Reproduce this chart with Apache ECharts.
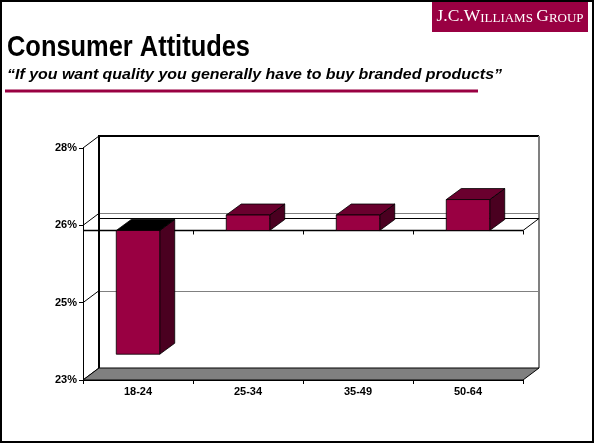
<!DOCTYPE html>
<html>
<head>
<meta charset="utf-8">
<script src="https://cdn.jsdelivr.net/npm/echarts@6/dist/echarts.min.js"></script>
<style>
html,body{margin:0;padding:0;background:#fff;}
#main{width:595px;height:444px;}
</style>
</head>
<body>
<div id="main"></div>
<script>
// ---- data ----
var categories = ['18-24', '25-34', '35-49', '50-64'];
var values = [23.5, 26.2, 26.2, 26.5];
var tickValues = [23, 24.5, 26, 27.5];
var tickLabels = ['23%', '25%', '26%', '28%'];
var axisCross = 25.9;
var titleText = 'Consumer Attitudes';
var subtitleText = '\u201CIf you want quality you generally have to buy branded products\u201D';

// ---- style ----
var MAROON = '#990042';
var TOP = '#6a002e';
var SIDE = '#4a0020';
var WALL_DX = 16, WALL_DY = 12;
var BAR_DX = 15, BAR_DY = 11;
var SANS = "'Liberation Sans', Arial, sans-serif";

function textWidth(txt, font) {
  var c = document.createElement('canvas').getContext('2d');
  c.font = font;
  return c.measureText(txt).width;
}
var titleFont = 'bold 30px ' + SANS;
var subFont = 'italic bold 15.5px ' + SANS;
var titleScale = 243 / textWidth(titleText, titleFont);
var subScale = 495 / textWidth(subtitleText, subFont);

var chart = echarts.init(document.getElementById('main'), null, {renderer: 'canvas'});

function decorRender(params, api) {
  var cs = params.coordSys;
  var x0 = cs.x, x1 = cs.x + cs.width;
  var yOf = function (v) { return api.coord([0, v])[1]; };
  var yMin = yOf(tickValues[0]);
  var yMax = yOf(tickValues[tickValues.length - 1]);
  var ch = [];
  ch.push({type: 'rect', shape: {x: x0 + WALL_DX, y: yMax - WALL_DY, width: x1 - x0, height: yMin - yMax},
    style: {fill: '#fff', stroke: null}});
  for (var k = 1; k < tickValues.length - 1; k++) {
    var yy = Math.round(yOf(tickValues[k]) - WALL_DY) + 0.5;
    ch.push({type: 'line', shape: {x1: x0 + WALL_DX, y1: yy, x2: x1 + WALL_DX, y2: yy},
      style: {stroke: '#808080', lineWidth: 1}});
  }
  for (var k2 = 0; k2 < tickValues.length; k2++) {
    var yt = yOf(tickValues[k2]);
    ch.push({type: 'line', shape: {x1: x0, y1: yt, x2: x0 + WALL_DX, y2: yt - WALL_DY},
      style: {stroke: '#000', lineWidth: 1}});
  }
  ch.push({type: 'polyline', shape: {points: [[x0 + WALL_DX, yMin - WALL_DY], [x0 + WALL_DX, yMax - WALL_DY], [x1 + WALL_DX, yMax - WALL_DY]]},
    style: {stroke: '#000', lineWidth: 2, fill: null}});
  ch.push({type: 'line', shape: {x1: x1 + WALL_DX, y1: yMax - WALL_DY, x2: x1 + WALL_DX, y2: yMin - WALL_DY},
    style: {stroke: '#808080', lineWidth: 2}});
  ch.push({type: 'polygon', shape: {points: [[x0, yMin], [x1, yMin], [x1 + WALL_DX, yMin - WALL_DY], [x0 + WALL_DX, yMin - WALL_DY]]},
    style: {fill: '#808080', stroke: '#000', lineWidth: 1}});
  var yc = yOf(axisCross);
  ch.push({type: 'line', shape: {x1: x0 + WALL_DX, y1: Math.round(yc - WALL_DY) + 0.5, x2: x1 + WALL_DX, y2: Math.round(yc - WALL_DY) + 0.5},
    style: {stroke: '#000', lineWidth: 1}});
  ch.push({type: 'line', shape: {x1: x1, y1: yc, x2: x1 + WALL_DX, y2: yc - WALL_DY},
    style: {stroke: '#000', lineWidth: 1}});
  ch.push({type: 'line', shape: {x1: x0, y1: Math.round(yc) + 0.5, x2: x1, y2: Math.round(yc) + 0.5},
    style: {stroke: '#000', lineWidth: 1.5}});
  var bw = api.size([1, 0])[0];
  for (var t = 1; t <= categories.length; t++) {
    var xt = Math.round(x0 + bw * t) + 0.5;
    ch.push({type: 'line', shape: {x1: xt, y1: yc, x2: xt, y2: yc + 4},
      style: {stroke: '#000', lineWidth: 1}});
  }
  return {type: 'group', children: ch};
}

function barRender(params, api) {
  var i = api.value(0), v = api.value(1);
  var c = api.coord([i, v]);
  var b = api.coord([i, axisCross]);
  var w = api.size([1, 0])[0] * 0.395;
  var xl = c[0] - w / 2, xr = c[0] + w / 2;
  var yTop = Math.min(c[1], b[1]), yBot = Math.max(c[1], b[1]);
  var topFill = v < axisCross ? '#000' : TOP;
  var st = {stroke: '#000', lineWidth: 0.8};
  return {type: 'group', children: [
    {type: 'polygon', shape: {points: [[xr, yTop], [xr + BAR_DX, yTop - BAR_DY], [xr + BAR_DX, yBot - BAR_DY], [xr, yBot]]},
      style: Object.assign({fill: SIDE}, st)},
    {type: 'polygon', shape: {points: [[xl, yTop], [xr, yTop], [xr + BAR_DX, yTop - BAR_DY], [xl + BAR_DX, yTop - BAR_DY]]},
      style: Object.assign({fill: topFill}, st)},
    {type: 'rect', shape: {x: xl, y: yTop, width: w, height: yBot - yTop},
      style: Object.assign({fill: MAROON}, st)}
  ]};
}

var option = {
  backgroundColor: '#fff',
  animation: false,
  grid: {left: 83, right: 72, top: 148, bottom: 64},
  xAxis: {
    type: 'category',
    data: categories,
    axisLine: {show: true, lineStyle: {color: '#000', width: 1}},
    axisTick: {show: true, inside: false, length: 4, lineStyle: {color: '#000'}},
    axisLabel: {color: '#000', fontFamily: SANS, fontWeight: 'bold', fontSize: 11, margin: 6},
    splitLine: {show: false}
  },
  yAxis: {
    type: 'value',
    min: tickValues[0],
    max: tickValues[tickValues.length - 1],
    axisLine: {show: true, lineStyle: {color: '#000', width: 1}},
    axisTick: {show: true, inside: false, length: 4, lineStyle: {color: '#000'}, customValues: tickValues},
    axisLabel: {
      color: '#000', fontFamily: SANS, fontWeight: 'bold', fontSize: 11, margin: 6,
      customValues: tickValues,
      formatter: function (v) {
        var idx = tickValues.indexOf(v);
        return idx >= 0 ? tickLabels[idx] : '';
      }
    },
    splitLine: {show: false}
  },
  series: [
    {type: 'custom', z: 1, renderItem: decorRender, data: [[0, tickValues[0]]], silent: true},
    {type: 'custom', z: 3, renderItem: barRender,
      data: values.map(function (v, i) { return [i, v]; })}
  ],
  graphic: [
    {type: 'rect', z: 100, shape: {x: 1, y: 1, width: 592, height: 441}, style: {fill: null, stroke: '#000', lineWidth: 2}},
    {type: 'rect', shape: {x: 432, y: 2, width: 156, height: 30}, style: {fill: MAROON}},
    {type: 'text', x: 510, y: 25, style: {
      text: '{b|J.C.W}{s|ILLIAMS} {b|G}{s|ROUP}',
      align: 'center', verticalAlign: 'bottom',
      fill: '#fff',
      rich: {
        b: {fontFamily: "'Liberation Serif', 'Times New Roman', serif", fontSize: 17.5, fill: '#fff', verticalAlign: 'bottom'},
        s: {fontFamily: "'Liberation Serif', 'Times New Roman', serif", fontSize: 13, fill: '#fff', verticalAlign: 'bottom'}
      }
    }},
    {type: 'text', x: 7, y: 48, scaleX: titleScale, style: {text: titleText, font: titleFont,
      fill: '#000', align: 'left', verticalAlign: 'middle'}},
    {type: 'text', x: 7, y: 75, scaleX: subScale, style: {text: subtitleText, font: subFont,
      fill: '#000', align: 'left', verticalAlign: 'middle'}},
    {type: 'rect', shape: {x: 5, y: 89.5, width: 473, height: 3}, style: {fill: MAROON}}
  ]
};
chart.setOption(option);
</script>
</body>
</html>
